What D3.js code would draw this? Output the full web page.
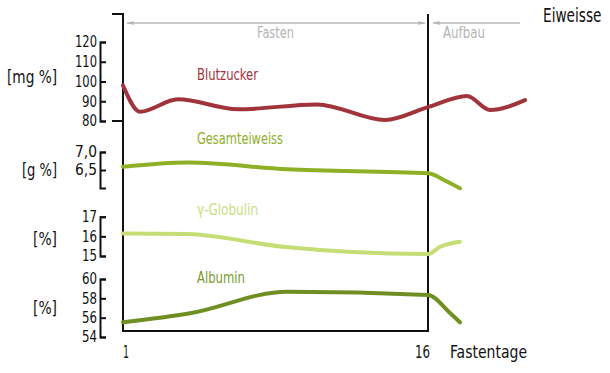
<!DOCTYPE html>
<html>
<head>
  <meta charset="utf-8">
  <title>Fasten</title>
  <style>
    body { margin: 0; background: #fff; }
    svg text { font-family: "DejaVu Sans Condensed", "Liberation Sans", sans-serif; }
    .axis path, .axis line { stroke: #111; stroke-width: 2px; fill: none; }
    .axis text { font-size: 15px; fill: #111; }
    .frame { stroke: #111; stroke-width: 2px; fill: none; }
    .phase { stroke: #b8b8b8; stroke-width: 1.5px; }
    .series { fill: none; stroke-width: 4px; stroke-linecap: round; stroke-linejoin: round; }
  </style>
</head>
<body>
  <svg width="610" height="373"></svg>
  <script src="https://d3js.org/d3.v7.min.js"></script>
  <script>
    // Data (day of fasting, value)
    const dayTicks = [1, 16];
    const blutzucker = [[1, 98], [1.84, 84.7], [3.7, 91], [6.66, 85.9], [10.54, 88.4],
                        [13.89, 80.5], [16, 87], [17.92, 92.7], [19.05, 85.6], [20.77, 90.6]];
    const gesamteiweiss = [[1, 6.59], [4.2, 6.71], [9.07, 6.52], [16, 6.41], [16.93, 6.18], [17.57, 5.99]];
    const globulin = [[1, 16.15], [4.15, 16.12], [8.87, 15.47], [16, 15.1], [16.6, 15.47], [17.57, 15.73]];
    const albumin = [[1, 55.52], [4.3, 56.45], [9.07, 58.69], [16, 58.35], [17.1, 56.45], [17.57, 55.52]];

    const bzTicks = [80, 90, 100, 110, 120];
    const geTicks = [6.5, 7.0];
    const glTicks = [15, 16, 17];
    const alTicks = [54, 56, 58, 60];

    const svg = d3.select("svg");

    const x = d3.scaleLinear().domain([1, 16]).range([123, 428]);

    const yBz = d3.scaleLinear().domain([80, 120]).range([121, 42]);
    const yGe = d3.scaleLinear().domain([6.0, 7.0]).range([188, 152]);
    const yGl = d3.scaleLinear().domain([15, 17]).range([256, 216.7]);
    const yAl = d3.scaleLinear().domain([54, 60]).range([337, 279]);

    // narrow text: squeeze a label to the width it has in the picture
    function label(px, py, str, size, color, width, anchor) {
      const t = svg.append("text").attr("x", px).attr("y", py)
        .attr("font-size", size).attr("fill", color).text(str);
      if (anchor) t.attr("text-anchor", anchor);
      if (width) t.attr("textLength", width).attr("lengthAdjust", "spacingAndGlyphs");
      return t;
    }

    // bracket-style axes on the left
    function bracket(scale, ticks, fmt) {
      return d3.axisLeft(scale).tickValues(ticks).tickFormat(fmt)
        .tickSizeInner(-6).tickSizeOuter(-6).tickPadding(3);
    }
    const comma = d => d3.format(".1f")(d).replace(".", ",");
    const axes = [
      [yBz, bzTicks, d3.format("d"), "[mg %]", 7, 83, 50],
      [yGe, geTicks, comma, "[g %]", 22, 176, 35],
      [yGl, glTicks, d3.format("d"), "[%]", 33, 245, 24],
      [yAl, alTicks, d3.format("d"), "[%]", 33, 314, 24]
    ];
    axes.forEach(([s, t, f, unit, ux, uy, uw]) => {
      svg.append("g").attr("class", "axis")
        .attr("transform", "translate(100,0)")
        .call(bracket(s, t, f))
        .call(g => g.selectAll("text")
          .attr("textLength", function() { const n = this.textContent.length; return n === 3 ? 22 : 15; })
          .attr("lengthAdjust", "spacingAndGlyphs"));
      label(ux, uy, unit, 17, "#111", uw);
    });

    // frame
    svg.append("path").attr("class", "frame")
      .attr("d", `M112,14H${x(1)}V331H${x(16)}V14`);
    svg.append("path").attr("class", "frame")
      .attr("d", `M112,121H${x(1)}`);

    // phase arrows
    const defs = svg.append("defs");
    defs.append("marker").attr("id", "arr")
      .attr("viewBox", "0 0 10 6").attr("refX", 10).attr("refY", 3)
      .attr("markerWidth", 7).attr("markerHeight", 4).attr("orient", "auto-start-reverse")
      .attr("markerUnits", "userSpaceOnUse")
      .append("path").attr("d", "M0,0L10,3L0,6Z").attr("fill", "#b8b8b8");

    svg.append("line").attr("class", "phase")
      .attr("x1", x(1) + 4).attr("x2", x(16) - 3).attr("y1", 23).attr("y2", 23)
      .attr("marker-start", "url(#arr)").attr("marker-end", "url(#arr)");
    svg.append("line").attr("class", "phase")
      .attr("x1", x(16) + 5).attr("x2", 520).attr("y1", 23).attr("y2", 23)
      .attr("marker-start", "url(#arr)");

    label(257, 38, "Fasten", 15, "#b5b5b5", 37);
    label(443, 38, "Aufbau", 15, "#b5b5b5", 42);
    // title squeezed with a transform so its box stays inside the page
    svg.append("text").attr("transform", "translate(543,22) scale(0.8,1)")
      .attr("font-size", 19).attr("fill", "#111").text("Eiweisse");

    // series
    const series = [
      {data: blutzucker, y: yBz, color: "#a0343a", name: "Blutzucker", ly: 80, lw: 61, lc: "#a0343a"},
      {data: gesamteiweiss, y: yGe, color: "#8db025", name: "Gesamteiweiss", ly: 144, lw: 86, lc: "#8db025"},
      {data: globulin, y: yGl, color: "#c6dc74", name: "γ-Globulin", ly: 215, lw: 61, lc: "#c9de7e"},
      {data: albumin, y: yAl, color: "#6f8f23", name: "Albumin", ly: 283, lw: 48, lc: "#7a9a2c"}
    ];
    series.forEach(s => {
      const line = d3.line().curve(d3.curveMonotoneX)
        .x(d => x(d[0])).y(d => s.y(d[1]));
      svg.append("path").attr("class", "series")
        .attr("stroke", s.color).attr("d", line(s.data));
      label(197, s.ly, s.name, 16, s.lc, s.lw);
    });

    // x labels
    svg.selectAll(".xl").data(dayTicks).enter().append("text")
      .attr("class", "xl")
      .attr("x", (d, i) => i === 0 ? x(d) : x(d) + 2).attr("y", 358)
      .attr("text-anchor", (d, i) => i === 0 ? "start" : "end")
      .attr("textLength", d => d < 10 ? 6 : 15).attr("lengthAdjust", "spacingAndGlyphs")
      .attr("font-size", 18).attr("fill", "#111").text(d => d);
    label(450, 358, "Fastentage", 18, "#111", 77);
  </script>
</body>
</html>
